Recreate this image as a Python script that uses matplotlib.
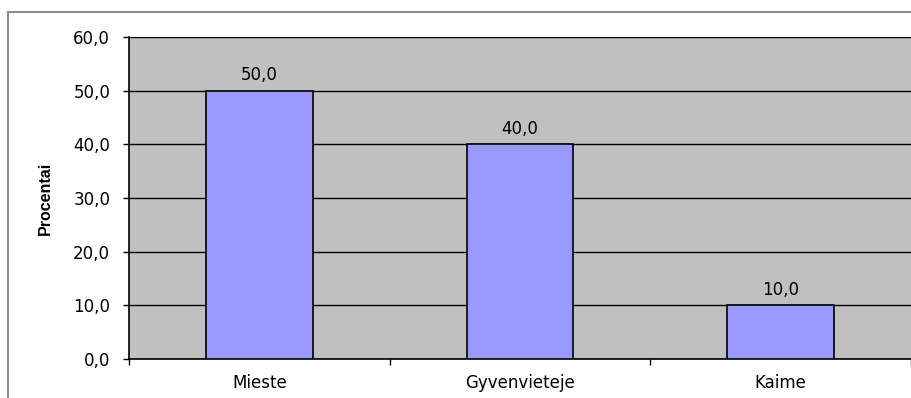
import matplotlib
matplotlib.use("Agg")
import matplotlib.pyplot as plt
from matplotlib.lines import Line2D

# Data
categories = ["Mieste", "Gyvenvieteje", "Kaime"]
values = [50.0, 40.0, 10.0]
y_ticks = [0, 10, 20, 30, 40, 50, 60]

plt.rcParams['font.family'] = ['DejaVu Sans']

fig = plt.figure(figsize=(9.12, 3.98), dpi=100)
ax = fig.add_axes([129 / 912, 1 - 359 / 398, (911 - 129) / 912, (359 - 37) / 398])

ax.set_facecolor("#C0C0C0")
x = list(range(len(categories)))
ax.bar(x, values, width=0.41, color="#9999FF", edgecolor="black", linewidth=1.2, zorder=3)

# value labels above the bars
for xi, v in zip(x, values):
    ax.text(xi, v + 1.2, f"{v:.1f}".replace(".", ","), ha="center", va="bottom", fontsize=12, zorder=4)

ax.set_xlim(-0.5, len(categories) - 0.5)
ax.set_ylim(0, 60)
ax.set_yticks(y_ticks)
ax.set_yticklabels([f"{t:.1f}".replace(".", ",") for t in y_ticks], fontsize=12)
ax.yaxis.grid(True, color="black", linewidth=1.0, zorder=1)
ax.set_axisbelow(True)

# x ticks between categories, labels centred under each category
ax.set_xticks([-0.5, 0.5, 1.5, 2.5])
ax.set_xticklabels([])
ax.set_xticks(x, minor=True)
ax.set_xticklabels(categories, minor=True, fontsize=12)
ax.tick_params(axis="x", which="minor", length=0, pad=11)
ax.tick_params(axis="x", which="major", length=4, width=1, direction="out")
ax.tick_params(axis="y", length=4.5, width=1, direction="out", pad=9)

for side in ["top", "right"]:
    ax.spines[side].set_visible(False)
ax.spines["left"].set_linewidth(1.2)
ax.spines["bottom"].set_linewidth(1.2)

ax.set_ylabel("Procentai", fontsize=11.5, fontweight="bold", family=['Liberation Sans'])
ax.yaxis.set_label_coords(-0.097, 0.5)

# chart border
fig.add_artist(Line2D([8 / 912, 8 / 912], [0, 1 - 12 / 398], color="#8C8C8C", linewidth=1.5,
                      transform=fig.transFigure))
fig.add_artist(Line2D([8 / 912, 1], [1 - 12 / 398, 1 - 12 / 398], color="#8C8C8C", linewidth=1.5,
                      transform=fig.transFigure))

fig.savefig("out.png", dpi=100)
